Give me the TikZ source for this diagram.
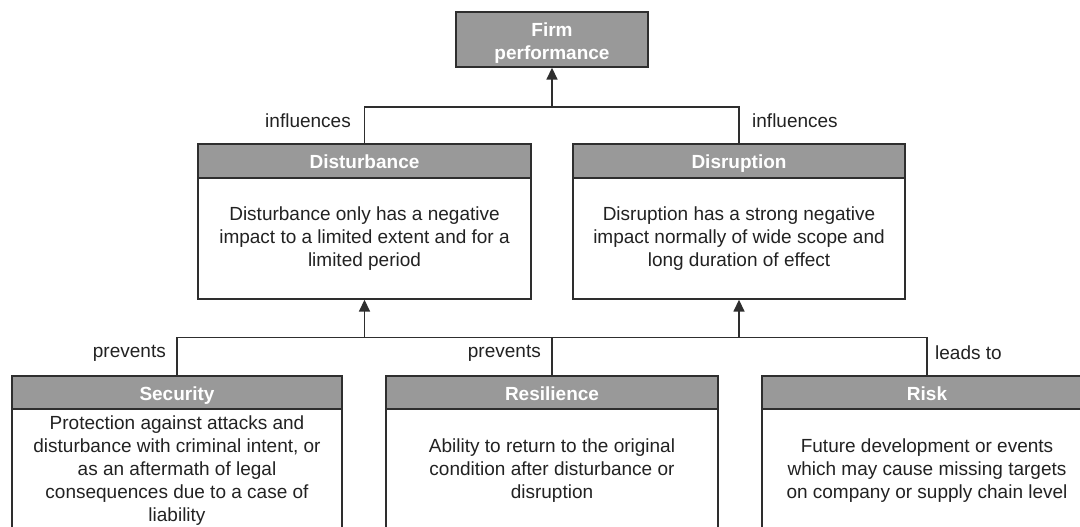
\documentclass[tikz,border=0pt]{standalone}
\usepackage{fontspec}
\setmainfont{Liberation Sans}
\usetikzlibrary{arrows.meta}
\definecolor{hdr}{HTML}{999999}
\definecolor{ln}{HTML}{2E2E2E}
\definecolor{txt}{HTML}{222222}
\tikzset{
  base/.style={font=\fontsize{19}{23}\selectfont},
  hbox/.style={base, draw=ln, line width=1.4pt, fill=hdr, text=white, inner sep=0pt,
    font=\fontsize{19}{23}\selectfont\bfseries, align=center, text height=17pt, text depth=1.4pt},
  bbox/.style={base, draw=ln, line width=1.4pt, fill=white, text=txt, inner sep=0pt, align=center},
  lbl/.style={base, text=txt, inner sep=0pt},
  conn/.style={draw=ln, line width=1.6pt},
  arr/.style={conn, -{Triangle[length=12pt,width=11pt]}},
}
\begin{document}
\begin{tikzpicture}[x=1pt,y=-1pt]
\path[use as bounding box, clip] (0,0) rectangle (1080,527);
\fill[white] (0,0) rectangle (1080,527);

% top
\node[hbox, minimum width=192pt, minimum height=55pt, text height=, text depth=] (firm) at (552,39.5) {\rule{0pt}{20pt}Firm\\performance};

% middle boxes
\node[bbox, minimum width=333pt, minimum height=121pt] (distb) at (364.5,238.5)
  {Disturbance only has a negative\\impact to a limited extent and for a\\limited period};
\node[hbox, minimum width=333pt, minimum height=34pt] (disth) at (364.5,161) {Disturbance};

\node[bbox, minimum width=332pt, minimum height=121pt] (disrb) at (739,238.5)
  {Disruption has a strong negative\\impact normally of wide scope and\\long duration of effect};
\node[hbox, minimum width=332pt, minimum height=34pt] (disrh) at (739,161) {Disruption};

% bottom boxes
\node[bbox, minimum width=330pt, minimum height=124pt] (secb) at (177,471)
  {Protection against attacks and\\disturbance with criminal intent, or\\as an aftermath of legal\\consequences due to a case of\\liability};
\node[hbox, minimum width=330pt, minimum height=33pt] (sech) at (177,392.5) {Security};

\node[bbox, minimum width=332pt, minimum height=124pt] (resb) at (552,471)
  {Ability to return to the original\\condition after disturbance or\\disruption};
\node[hbox, minimum width=332pt, minimum height=33pt] (resh) at (552,392.5) {Resilience};

\node[bbox, minimum width=330pt, minimum height=124pt] (riskb) at (927,471)
  {Future development or events\\which may cause missing targets\\on company or supply chain level};
\node[hbox, minimum width=330pt, minimum height=33pt] (riskh) at (927,392.5) {Risk};

% junctions
\coordinate (j1) at (552,107);
\coordinate (j2) at (552,337.5);

% top connectors
\draw[conn] (disth.north) |- (j1) -| (disrh.north);
\draw[arr] (j1) -- (firm.south);

% bottom connectors
\draw[conn] (sech.north) |- (j2) -| (riskh.north);
\draw[conn] (j2) -- (resh.north);
\draw[arr] (distb.south |- j2) -- (distb.south);
\draw[arr] (disrb.south |- j2) -- (disrb.south);

% labels
\node[lbl, anchor=east] (l1) at (351,121) {influences};
\node[lbl, anchor=west] (l2) at (752,121) {influences};
\node[lbl, anchor=east] (l3) at (166,353) {prevents};
\node[lbl, anchor=east] (l4) at (541,353) {prevents};
\node[lbl, anchor=west] (l5) at (935,353) {leads to};
\end{tikzpicture}
\end{document}
